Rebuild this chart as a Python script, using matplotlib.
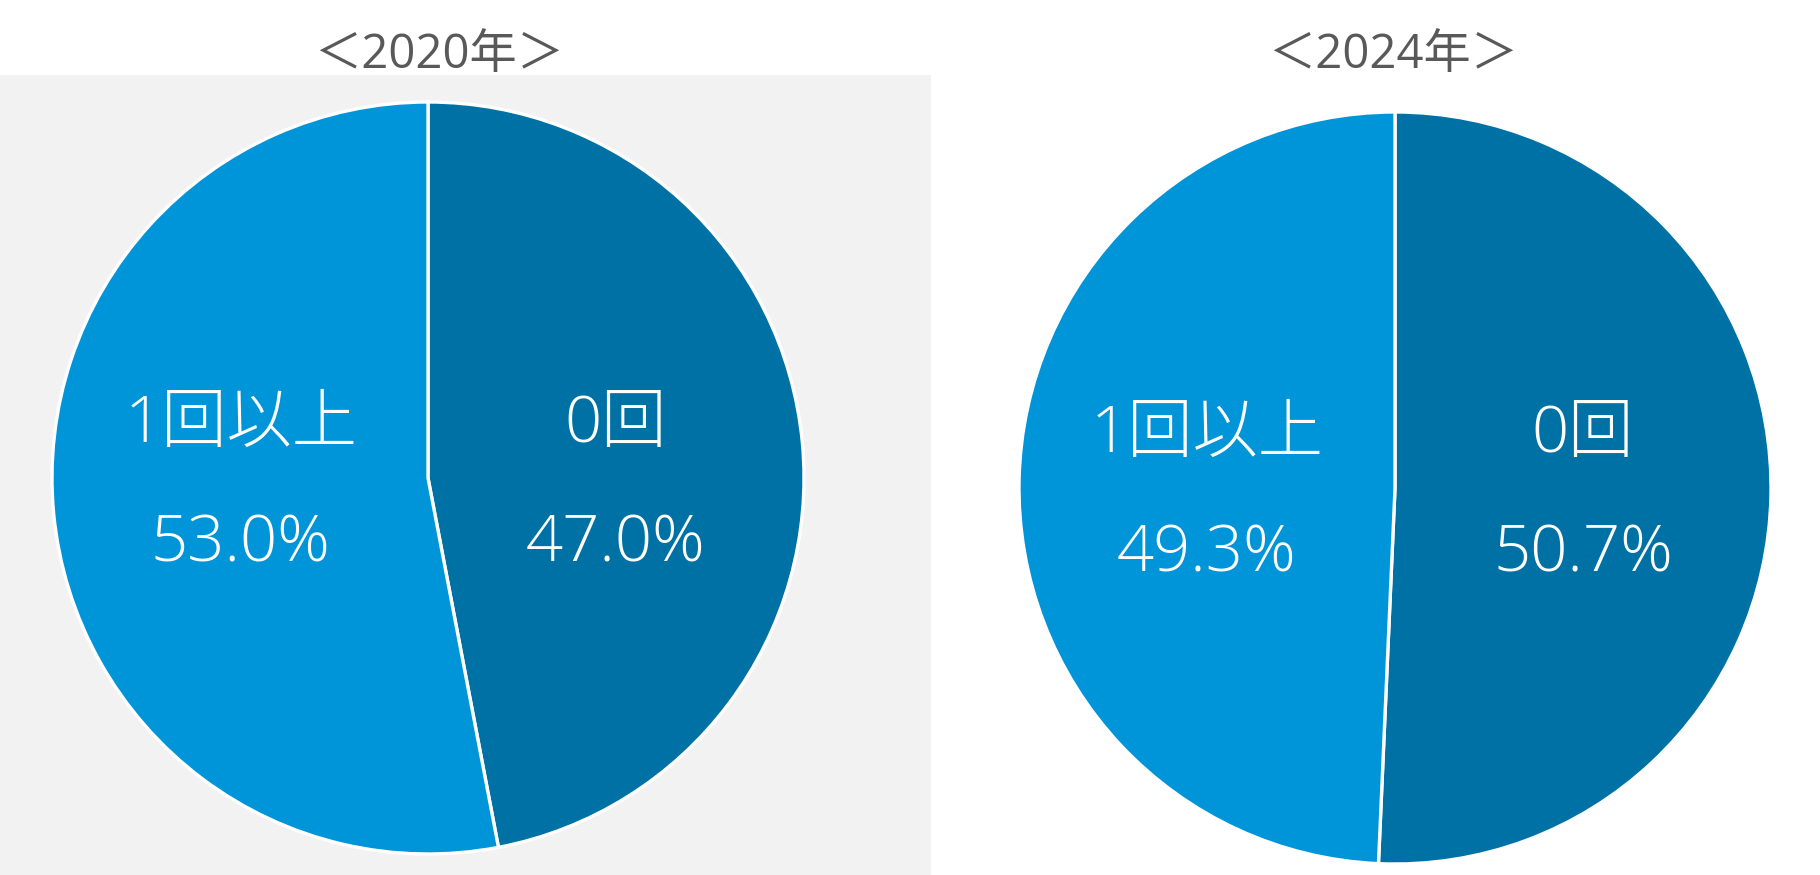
import matplotlib
matplotlib.use("Agg")
import matplotlib.pyplot as plt
import numpy as np

plt.rcParams['font.family'] = ['Open Sans', 'Noto Sans CJK JP', 'DejaVu Sans']

titles = ["＜2020年＞", "＜2024年＞"]
categories = ["0回", "1回以上"]
values_2020 = [47.0, 53.0]
values_2024 = [50.7, 49.3]
colors = ["#0071A4", "#0095D9"]

W, H = 1820, 875
fig = plt.figure(figsize=(W / 100, H / 100), dpi=100)
fig.patch.set_facecolor("white")

# grey panel behind first chart
bg = fig.add_axes([0, 0, 931 / W, (875 - 75) / H])
bg.set_facecolor("#F2F2F2")
bg.set_xticks([]); bg.set_yticks([])
for s in bg.spines.values():
    s.set_visible(False)
bg.set_zorder(0)

specs = [
    (values_2020, (428, 478), 439, titles[0]),
    (values_2024, (1395, 488), 1393, titles[1]),
]
R = 376
lab_font = dict(color="white", fontsize=47, fontweight="light",
                family=['Open Sans', 'Noto Sans CJK JP', 'DejaVu Sans'])
for vals, (cx, cy), tx, title in specs:
    ax = fig.add_axes([(cx - R) / W, (H - cy - R) / H, 2 * R / W, 2 * R / H])
    ax.set_zorder(1)
    ax.patch.set_alpha(0)
    wedges, _ = ax.pie(vals, colors=colors, startangle=90, counterclock=False,
                       radius=1.0,
                       wedgeprops=dict(edgecolor="white", linewidth=2.4))
    for w in wedges:
        w.set_clip_on(False)
    ax.set_xlim(-1, 1); ax.set_ylim(-1, 1)
    ax.set_aspect("equal")
    ax.axis("off")
    for w, cat, v in zip(wedges, categories, vals):
        mid = np.deg2rad((w.theta1 + w.theta2) / 2)
        x = 0.5 * np.cos(mid)
        ax.annotate(cat, (x, 0), xytext=(0, 26), textcoords="offset points",
                    ha="center", va="baseline", **lab_font)
        ax.annotate(f"{v:.1f}%", (x, 0), xytext=(0, -60),
                    textcoords="offset points",
                    ha="center", va="baseline", **lab_font)
    fig.text(tx / W, 1 - 55 / H, title, ha="center", va="center",
             fontsize=34, color="#595959")

fig.savefig("out.png", dpi=100, facecolor="white")
